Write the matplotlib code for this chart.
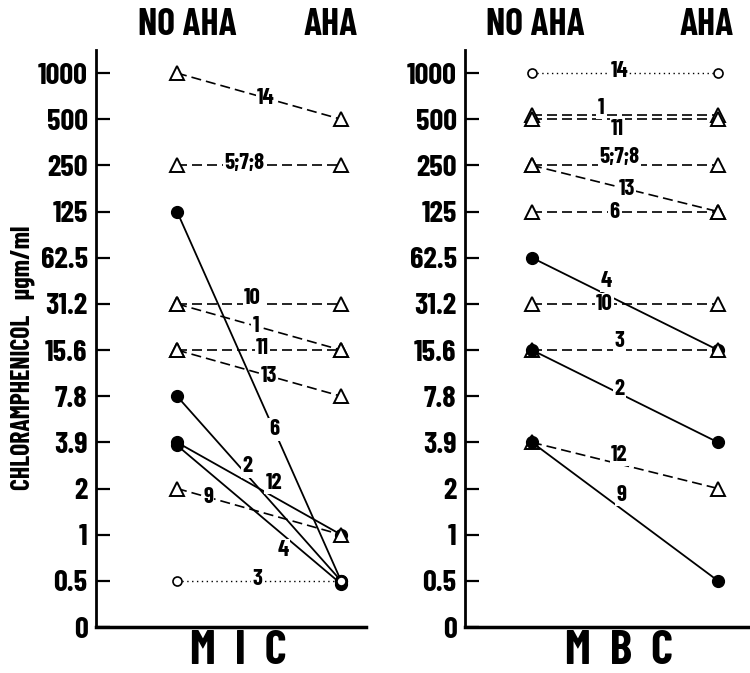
import numpy as np
import matplotlib
matplotlib.use("Agg")
import matplotlib.pyplot as plt
from matplotlib import transforms

# concentration levels, equally spaced on the axis
levels = ["0", "0.5", "1", "2", "3.9", "7.8", "15.6", "31.2", "62.5", "125", "250", "500", "1000"]

# MIC panel: strain label, NO AHA value, AHA value, marker kind
mic_labels = ["14", "5;7;8", "6", "10", "1", "11", "13", "2", "12", "9", "4", "3"]
mic_no_aha = ["1000", "250", "125", "31.2", "31.2", "15.6", "15.6", "7.8", "3.9", "2", "3.9", "0.5"]
mic_aha = ["500", "250", "0.5", "31.2", "15.6", "15.6", "7.8", "0.5", "1", "1", "0.5", "0.5"]
mic_kind = ["tri", "tri", "dot", "tri", "tri", "tri", "tri", "dot", "dot", "tri", "dot", "open"]
# where the number sits along the line (fraction) and how far off it
mic_lab_t = [0.54, 0.41, 0.59, 0.46, 0.48, 0.52, 0.56, 0.43, 0.59, 0.19, 0.65, 0.49]
mic_lab_dy = [0.0, 0.05, 0.0, 0.12, 0.0, 0.05, 0.0, 0.2, 0.3, 0.0, -0.38, 0.05]
mic_nudge = [0, 0, 0, 0, 0, 0, 0, 0, 0, 0, -3, 0]

# MBC panel
mbc_labels = ["14", "1", "11", "5;7;8", "13", "6", "4", "10", "3", "2", "12", "9"]
mbc_no_aha = ["1000", "500", "500", "250", "250", "125", "62.5", "31.2", "15.6", "15.6", "3.9", "3.9"]
mbc_aha = ["1000", "500", "500", "250", "125", "125", "15.6", "31.2", "15.6", "3.9", "2", "0.5"]
mbc_kind = ["open", "tri", "tri", "tri", "tri", "tri", "dot", "tri", "tri", "dot", "tri", "dot"]
mbc_lab_t = [0.47, 0.37, 0.46, 0.47, 0.51, 0.44, 0.40, 0.39, 0.47, 0.47, 0.47, 0.48]
mbc_lab_dy = [0.05, 0.24, -0.22, 0.19, 0.0, 0.0, 0.3, 0.0, 0.2, 0.1, 0.2, 0.3]
mbc_nudge = [0, 4, 0, 0, 0, 0, 0, 0, 0, 0, 0, 0]

FONT = ["Barlow Condensed", "Roboto Condensed", "DejaVu Sans"]

styles = {
    "tri": dict(marker="^", markersize=10, markerfacecolor="white", markeredgecolor="black",
                markeredgewidth=1.4, linestyle=(0, (6, 3)), linewidth=1.2, color="black"),
    "dot": dict(marker="o", markersize=8.5, markerfacecolor="black", markeredgecolor="black",
                linestyle="-", linewidth=1.3, color="black"),
    "open": dict(marker="o", markersize=6.5, markerfacecolor="white", markeredgecolor="black",
                 markeredgewidth=1.2, linestyle=(0, (1, 2.5)), linewidth=1.0, color="black"),
}


def draw_panel(fig, ax, labels, v0, v1, kinds, lab_t, lab_dy, nudge, xlim):
    for lab, a, b, k, t, dy, nd in zip(labels, v0, v1, kinds, lab_t, lab_dy, nudge):
        y0, y1 = levels.index(a), levels.index(b)
        tr = transforms.offset_copy(ax.transData, fig=fig, y=nd, units="dots")
        ax.plot([0, 1], [y0, y1], transform=tr, zorder=2, clip_on=False, **styles[k])
        ax.text(t, y0 + (y1 - y0) * t + dy, lab, ha="center", va="center",
                fontsize=16.5, fontweight="bold", family=FONT, zorder=3,
                bbox=dict(facecolor="white", edgecolor="none", pad=0.8))

    ax.set_xlim(*xlim)
    ax.set_ylim(0, 12.5)
    ax.set_yticks(range(len(levels)))
    ax.set_yticklabels(levels, fontsize=22, fontweight="bold", family=FONT)
    ax.set_xticks([])
    ax.tick_params(axis="y", direction="in", length=10, width=1.6, pad=6)
    for s in ["top", "right"]:
        ax.spines[s].set_visible(False)
    ax.spines["left"].set_linewidth(2)
    ax.spines["bottom"].set_linewidth(2.5)


fig = plt.figure(figsize=(7.5, 6.73), dpi=100)
ax1 = fig.add_axes([96 / 750, 46 / 673, 270 / 750, 577 / 673])
ax2 = fig.add_axes([465 / 750, 46 / 673, 285 / 750, 577 / 673])

draw_panel(fig, ax1, mic_labels, mic_no_aha, mic_aha, mic_kind, mic_lab_t, mic_lab_dy, mic_nudge, (-0.494, 1.152))
draw_panel(fig, ax2, mbc_labels, mbc_no_aha, mbc_aha, mbc_kind, mbc_lab_t, mbc_lab_dy, mbc_nudge, (-0.360, 1.172))

hdr = dict(fontsize=27, fontweight="bold", family=FONT, ha="center", va="center")
fig.text(187 / 750, 1 - 25 / 673, "NO AHA", **hdr)
fig.text(331 / 750, 1 - 25 / 673, "AHA", **hdr)
fig.text(535 / 750, 1 - 25 / 673, "NO AHA", **hdr)
fig.text(707 / 750, 1 - 25 / 673, "AHA", **hdr)

ttl = dict(fontsize=34, fontweight="bold", family=FONT, ha="center", va="top")
fig.text(238 / 750, 1 - 630 / 673, "M  I  C", **ttl)
fig.text(619 / 750, 1 - 630 / 673, "M  B  C", **ttl)

fig.text(23 / 750, 1 - 358 / 673, "CHLORAMPHENICOL   \u00b5gm/ml", rotation=90,
         fontsize=18.5, fontweight="bold", family=FONT, ha="center", va="center")

fig.savefig("out.png", dpi=100)
